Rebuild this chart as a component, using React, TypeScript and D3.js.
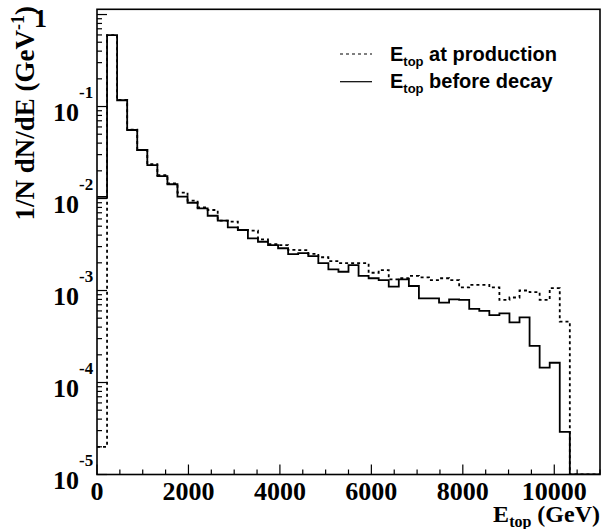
import React from 'react';
import * as d3 from 'd3';

const BIN_WIDTH = 220;
const X_MAX = 11000;

// 1/N dN/dE per 220 GeV bin (bins 0..49)
const production = [
  2.0e-5, 0.598, 0.118, 0.056, 0.0337, 0.0237, 0.018, 0.0146, 0.0116, 9.47e-3,
  8.02e-3, 7.5e-3, 5.74e-3, 5.6e-3, 4.55e-3, 4.47e-3, 3.6e-3, 3.2e-3, 3.12e-3, 2.76e-3,
  2.75e-3, 2.5e-3, 2.3e-3, 2.09e-3, 1.98e-3, 1.98e-3, 1.98e-3, 1.56e-3, 1.67e-3, 1.32e-3,
  1.36e-3, 1.44e-3, 1.39e-3, 1.3e-3, 1.36e-3, 1.3e-3, 1.08e-3, 1.15e-3, 1.15e-3, 1.08e-3,
  7.9e-4, 8.4e-4, 1.0e-3, 9.6e-4, 7.9e-4, 1.06e-3, 4.6e-4, 0, 0, 0,
];

const beforeDecay = [
  1.04e-2, 0.598, 0.117, 0.0556, 0.0337, 0.0231, 0.0175, 0.0143, 0.0105, 9.0e-3,
  7.82e-3, 6.5e-3, 5.74e-3, 4.86e-3, 4.55e-3, 3.69e-3, 3.39e-3, 3.12e-3, 2.88e-3, 2.49e-3,
  2.55e-3, 2.37e-3, 1.98e-3, 1.7e-3, 1.6e-3, 1.89e-3, 1.44e-3, 1.36e-3, 1.3e-3, 1.1e-3,
  1.32e-3, 1.12e-3, 8.2e-4, 8.2e-4, 7.4e-4, 8.0e-4, 7.9e-4, 6.3e-4, 6.0e-4, 5.4e-4,
  5.65e-4, 4.5e-4, 5.1e-4, 2.5e-4, 1.45e-4, 1.64e-4, 2.9e-5, 0, 0, 0,
];

const xMajorTicks = [0, 2000, 4000, 6000, 8000, 10000];
const yDecades = [0, -1, -2, -3, -4, -5];

const W = 610;
const H = 529;
const L = 97;
const R = 600;
const T = 9.3;
const B = 474.5;

const serif = '"Liberation Serif", "Times New Roman", serif';
const sans = '"Liberation Sans", Arial, sans-serif';

export default function App() {
  const x = d3.scaleLinear().domain([0, X_MAX]).range([L, R]);
  const y = d3.scaleLog().domain([1e-5, 1.14]).range([B, T]);
  const yv = (v: number) => (v > 0 ? y(v) : B);

  const histPath = (vals: number[]) => {
    const pts: [number, number][] = vals.map((v, i) => [i * BIN_WIDTH, v]);
    pts.push([vals.length * BIN_WIDTH, vals[vals.length - 1]]);
    const line = d3
      .line<[number, number]>()
      .x((d) => x(Math.min(d[0], X_MAX)))
      .y((d) => yv(d[1]))
      .curve(d3.curveStepAfter);
    return line(pts) || '';
  };

  const xMinor = d3.range(0, X_MAX + 1, 500).filter((t) => t % 2000 !== 0);
  const yMinor: number[] = [];
  for (let e = -5; e < 0; e++) {
    for (let m = 2; m <= 9; m++) yMinor.push(m * Math.pow(10, e));
  }

  return (
    <div style={{ position: 'absolute', left: 0, top: 0 }}>
      <svg width={W} height={H} style={{ display: 'block', background: '#fff' }}>
        <rect x={0} y={0} width={W} height={H} fill="#fff" />
        <defs>
          <clipPath id="plotclip">
            <rect x={L} y={T} width={R - L} height={B - T} />
          </clipPath>
        </defs>

        {/* histograms */}
        <g clipPath="url(#plotclip)" fill="none">
          <path d={histPath(production)} stroke="#000" strokeWidth={1.8} strokeDasharray="3,3" />
          <path d={histPath(beforeDecay)} stroke="#000" strokeWidth={1.8} />
        </g>

        {/* frame */}
        <rect x={L} y={T} width={R - L} height={B - T} fill="none" stroke="#000" strokeWidth={1.6} />

        {/* x ticks */}
        {xMajorTicks.map((t) => (
          <line key={'xM' + t} x1={x(t)} x2={x(t)} y1={B} y2={B - 10} stroke="#000" strokeWidth={1.2} />
        ))}
        {xMinor.map((t) => (
          <line key={'xm' + t} x1={x(t)} x2={x(t)} y1={B} y2={B - 5} stroke="#000" strokeWidth={1.2} />
        ))}
        {xMajorTicks.map((t) => (
          <text key={'xl' + t} x={x(t)} y={500} textAnchor="middle" fontFamily={serif} fontWeight="bold" fontSize={26}>
            {t}
          </text>
        ))}

        {/* y ticks */}
        {yDecades.map((e) => (
          <line key={'yM' + e} x1={L} x2={L + 10} y1={y(Math.pow(10, e))} y2={y(Math.pow(10, e))} stroke="#000" strokeWidth={1.2} />
        ))}
        {yMinor.map((v, i) => (
          <line key={'ym' + i} x1={L} x2={L + 5} y1={y(v)} y2={y(v)} stroke="#000" strokeWidth={1.2} />
        ))}
        {yDecades.map((e) =>
          e === 0 ? (
            <text key={'yl' + e} x={47} y={y(1) + 12} textAnchor="end" fontFamily={serif} fontWeight="bold" fontSize={26}>
              1
            </text>
          ) : (
            <g key={'yl' + e}>
              <text x={79} y={y(Math.pow(10, e)) + 14} textAnchor="end" fontFamily={serif} fontWeight="bold" fontSize={26}>
                10
              </text>
              <text x={79} y={y(Math.pow(10, e)) - 9} textAnchor="start" fontFamily={serif} fontWeight="bold" fontSize={17}>
                {String(e)}
              </text>
            </g>
          )
        )}

        {/* axis titles */}
        <text x={600} y={522} textAnchor="end" fontFamily={serif} fontWeight="bold" fontSize={24}>
          E<tspan fontSize={16} dy={5}>top</tspan>
          <tspan dy={-5}> (GeV)</tspan>
        </text>
        <text
          transform="translate(34,6) rotate(-90)"
          textAnchor="end"
          fontFamily={serif}
          fontWeight="bold"
          fontSize={27}
        >
          1/N dN/dE (GeV<tspan fontSize={18} dy={-10}>-1</tspan>
          <tspan dy={10}>)</tspan>
        </text>

        {/* legend */}
        <line x1={340} x2={372} y1={54} y2={54} stroke="#000" strokeWidth={1.2} strokeDasharray="3,3" />
        <text x={390} y={61} fontFamily={sans} fontWeight="bold" fontSize={20}>
          E<tspan fontSize={13} dy={5}>top</tspan>
          <tspan dy={-5}> at production</tspan>
        </text>
        <line x1={340} x2={372} y1={81.7} y2={81.7} stroke="#000" strokeWidth={1.2} />
        <text x={390} y={88} fontFamily={sans} fontWeight="bold" fontSize={20}>
          E<tspan fontSize={13} dy={5}>top</tspan>
          <tspan dy={-5}> before decay</tspan>
        </text>
      </svg>
    </div>
  );
}
